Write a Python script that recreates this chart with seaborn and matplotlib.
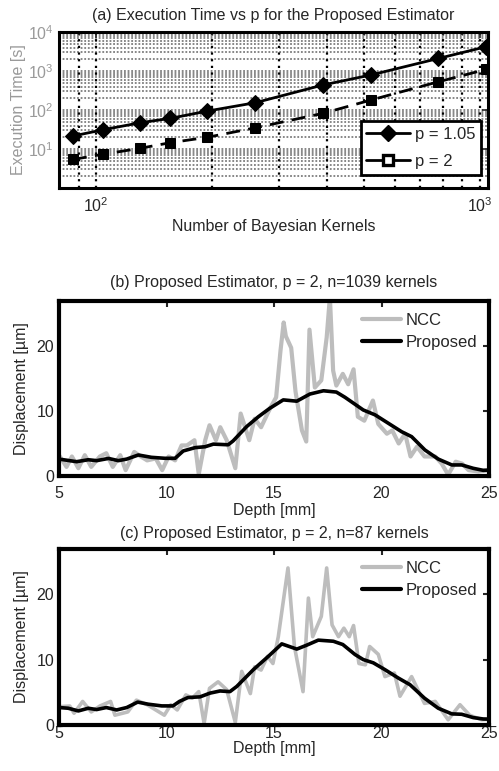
import numpy as np
import pandas as pd
import matplotlib
matplotlib.use("Agg")
import matplotlib.pyplot as plt
from matplotlib.lines import Line2D
from matplotlib.ticker import LogLocator, NullFormatter, FixedLocator
import seaborn as sns

# ---------------- data ----------------
# (a) execution time vs number of kernels
kernels = [87, 104, 130, 156, 195, 260, 390, 520, 780, 1039]
time_p105 = [21.5, 31, 47, 61, 94, 154, 438, 790, 2100, 4200]
time_p2 = [5.4, 7.3, 10.4, 14.5, 20, 35, 82, 180, 530, 1100]

# (b) displacement profile, n=1039 kernels
depth_b_ncc = [5.0, 5.35, 5.6, 5.9, 6.2, 6.5, 6.9, 7.2, 7.5, 7.85, 8.1, 8.5, 8.8, 9.1,
               9.5, 9.8, 10.1, 10.4, 10.7, 10.95, 11.3, 11.5, 11.8, 12.0, 12.3, 12.5,
               12.8, 13.2, 13.45, 13.85, 14.1, 14.4, 14.7, 14.85, 15.1, 15.3, 15.45,
               15.55, 15.8, 16.0, 16.3, 16.5, 16.65, 16.9, 17.2, 17.45, 17.6, 17.75,
               17.9, 18.2, 18.45, 18.7, 18.9, 19.2, 19.6, 19.85, 20.25, 20.5, 20.8,
               21.1, 21.35, 21.65, 22.0, 22.5, 22.8, 23.1, 23.45, 23.75, 24.05, 24.5,
               25.0]
ncc_b = [3.2, 1.4, 3.0, 1.2, 3.2, 1.4, 3.0, 3.5, 1.4, 3.2, 0.9, 3.7, 3.0, 2.4,
         2.7, 0.9, 3.0, 2.4, 4.7, 4.7, 5.5, 0.3, 5.5, 7.8, 5.5, 7.5,
         5.5, 1.2, 9.6, 5.5, 8.8, 7.5, 9.6, 10.6, 12.1, 19.2, 23.6,
         21.5, 19.7, 13.0, 7.0, 5.3, 22.5, 13.6, 14.7, 21.3, 27.5, 16.2,
         13.9, 15.7, 14.1, 16.4, 9.1, 8.5, 11.6, 8.0, 6.5, 7.0, 5.0,
         6.5, 3.0, 4.5, 3.0, 3.0, 1.9, 0.2, 2.2, 1.9, 0.9, 0.7,
         0.9]
depth_b_prop = [5.0, 5.82, 6.36, 6.75, 7.3, 7.76, 8.15, 8.69, 9.3, 9.93, 10.4, 10.78,
                11.33, 11.8, 12.18, 12.87, 13.1, 13.73, 14.27, 14.8, 15.43, 16.06,
                16.67, 17.3, 17.9, 18.3, 19.15, 19.7, 20.32, 20.94, 21.4, 22.02,
                22.64, 23.27, 23.73, 24.27, 24.73, 25.0]
prop_b = [2.6, 2.2, 2.5, 2.36, 2.7, 2.36, 2.6, 3.23, 2.87, 2.72, 2.72, 3.85,
          4.36, 4.5, 4.9, 4.8, 5.4, 7.6, 9.1, 10.4, 11.7, 11.5,
          12.6, 13.1, 12.9, 12.1, 10.15, 9.4, 8.1, 6.8, 6.05, 4.0,
          2.6, 1.7, 1.7, 1.18, 0.87, 0.9]

# (c) displacement profile, n=87 kernels
depth_c_ncc = [5.0, 5.5, 5.7, 6.1, 6.5, 6.9, 7.4, 7.6, 8.2, 8.6, 9.1, 9.5, 9.9, 10.2,
               10.5, 10.9, 11.2, 11.5, 11.75, 12.0, 12.4, 12.8, 13.2, 13.5, 13.9,
               14.1, 14.4, 14.7, 14.95, 15.2, 15.65, 15.95, 16.35, 16.6, 16.8, 17.2,
               17.45, 17.7, 18.0, 18.25, 18.5, 18.7, 18.95, 19.25, 19.45, 19.85,
               20.16, 20.6, 20.86, 21.4, 22.0, 22.5, 23.1, 23.65, 24.1, 24.66, 25.0]
ncc_c = [2.8, 2.9, 1.8, 3.6, 2.0, 2.9, 3.6, 1.5, 2.0, 3.8, 3.1, 2.3, 1.5, 3.1,
         2.3, 4.6, 4.1, 5.1, 0.25, 5.6, 6.6, 5.4, 0.4, 8.2, 4.8,
         8.9, 8.4, 10.5, 9.4, 13.5, 24.0, 12.0, 5.1, 19.4, 13.5, 16.6,
         24.0, 15.3, 13.5, 14.8, 13.5, 15.2, 9.4, 9.2, 12.0, 10.8,
         7.4, 7.95, 4.4, 7.4, 3.3, 3.6, 0.8, 3.1, 1.5, 0.8, 0.9]
depth_c_prop = [5.0, 5.43, 5.9, 6.36, 6.75, 7.2, 7.68, 8.15, 8.66, 9.15, 9.78, 10.3,
                10.6, 11.0, 11.56, 12.02, 12.49, 12.95, 13.27, 14.04, 14.74, 15.36,
                16.06, 16.52, 17.06, 17.76, 18.2, 18.77, 19.15, 19.62, 20.16, 20.78,
                21.33, 22.0, 22.64, 23.27, 23.73, 24.27, 24.73, 25.0]
prop_c = [2.67, 2.56, 2.15, 2.56, 2.36, 2.67, 2.3, 2.67, 3.5, 3.18, 2.92, 2.92,
          3.6, 4.2, 4.3, 4.87, 5.2, 5.1, 5.9, 8.46, 10.5, 12.4,
          11.6, 12.2, 12.97, 12.8, 12.3, 10.77, 10.0, 9.5, 8.46, 7.18,
          6.15, 4.1, 2.56, 1.7, 1.64, 1.13, 0.92, 0.9]

# ---------------- style ----------------
sns.set_style("white")
plt.rcParams["font.family"] = ["Liberation Sans", "DejaVu Sans"]
plt.rcParams["mathtext.fontset"] = "custom"
plt.rcParams["mathtext.rm"] = "Liberation Sans"
plt.rcParams["mathtext.it"] = "Liberation Sans:italic"
FS = 11.5
GRAY_TXT = "#9a9a9a"
NCC_GRAY = "#bdbdbd"

fig = plt.figure(figsize=(4.99, 7.71), dpi=100)
W, H = 499.0, 771.0


def box(left, top, right, bottom):
    return [left / W, 1 - bottom / H, (right - left) / W, (bottom - top) / H]


ax_a = fig.add_axes(box(59, 32, 488, 188))
ax_b = fig.add_axes(box(59, 301, 489, 476))
ax_c = fig.add_axes(box(59, 549, 489, 725))

# ---------------- (a) ----------------
df_a = pd.DataFrame({"kernels": kernels, "t105": time_p105, "t2": time_p2})
ax_a.set_xscale("log")
ax_a.set_yscale("log")

# grid: gray dotted horizontal lines at every log step, black dotted verticals
for dec in [1, 10, 100, 1000]:
    for m in range(1, 10):
        yv = dec * m
        if 1 <= yv <= 10000:
            ax_a.axhline(yv, color="#7d7d7d", lw=1.3, ls=(0, (1, 1.0)), zorder=0)
for xv in [90, 100, 200, 300, 400, 500, 600, 700, 800, 900, 1000]:
    ax_a.axvline(xv, color="black", lw=1.6, ls=(0, (1, 2.0)), zorder=0.5)

sns.lineplot(data=df_a, x="kernels", y="t105", ax=ax_a, color="black", lw=2.0,
             marker="D", markersize=8, markerfacecolor="black",
             markeredgecolor="black", zorder=3)
sns.lineplot(data=df_a, x="kernels", y="t2", ax=ax_a, color="black", lw=2.0,
             linestyle=(0, (5, 3)), marker="s", markersize=7,
             markerfacecolor="black", markeredgecolor="black", zorder=3)

ax_a.set_xlim(80, 1050)
ax_a.set_ylim(1, 10000)
ax_a.yaxis.set_major_locator(FixedLocator([10, 100, 1000, 10000]))
ax_a.yaxis.set_minor_locator(LogLocator(base=10, subs=np.arange(2, 10)))
ax_a.yaxis.set_minor_formatter(NullFormatter())
ax_a.xaxis.set_major_locator(FixedLocator([100, 1000]))
ax_a.xaxis.set_minor_locator(LogLocator(base=10, subs=np.arange(2, 10)))
ax_a.xaxis.set_minor_formatter(NullFormatter())
ax_a.tick_params(axis="both", which="both", direction="in", top=True, right=True,
                 labelsize=FS)
ax_a.tick_params(axis="both", which="major", length=4, width=1.2)
ax_a.tick_params(axis="both", which="minor", length=2, width=1.0)
ax_a.tick_params(axis="y", labelcolor=GRAY_TXT, pad=4)
ax_a.tick_params(axis="x", pad=6)
for s in ax_a.spines.values():
    s.set_linewidth(2.2)
    s.set_color("black")
ax_a.set_title("(a) Execution Time vs p for the Proposed Estimator", fontsize=FS, pad=9)
ax_a.set_xlabel("Number of Bayesian Kernels", fontsize=FS, labelpad=3)
ax_a.set_ylabel("Execution Time [s]", fontsize=FS, color=GRAY_TXT, labelpad=1)

handles_a = [
    Line2D([], [], color="black", lw=2.0, marker="D", markersize=8.5,
           markerfacecolor="black", markeredgecolor="black"),
    Line2D([], [], color="black", lw=2.0, marker="s", markersize=7,
           markerfacecolor="white", markeredgecolor="black", markeredgewidth=2.4),
]
leg_a = ax_a.legend(handles_a, ["p = 1.05", "p = 2"], loc="lower right",
                    bbox_to_anchor=((481 - 59) / 429, (188 - 175) / 156),
                    fontsize=FS + 0.5, frameon=True, fancybox=False,
                    handlelength=2.6, handletextpad=0.3, borderpad=0.35,
                    labelspacing=0.75, borderaxespad=0.0)
leg_a.get_frame().set_edgecolor("black")
leg_a.get_frame().set_linewidth(2.0)
leg_a.get_frame().set_alpha(1)
leg_a.set_zorder(5)


# ---------------- (b) and (c) ----------------
def profile(ax, d_ncc, v_ncc, d_prop, v_prop, title, ncc_lw,
            title_pad, tick_pad, xlabel_pad):
    sns.lineplot(x=d_ncc, y=v_ncc, ax=ax, color=NCC_GRAY, lw=ncc_lw, sort=False,
                 label="NCC")
    sns.lineplot(x=d_prop, y=v_prop, ax=ax, color="black", lw=2.6, sort=False,
                 label="Proposed")
    ax.set_xlim(5, 25)
    ax.set_ylim(0, 26.9)
    ax.set_xticks([5, 10, 15, 20, 25])
    ax.set_yticks([0, 10, 20])
    ax.tick_params(axis="both", direction="in", top=True, right=True, length=4,
                   width=1.5, labelsize=FS)
    ax.tick_params(axis="x", pad=tick_pad)
    for s in ax.spines.values():
        s.set_linewidth(3.0)
        s.set_color("black")
    ax.set_title(title, fontsize=FS, pad=title_pad)
    ax.set_xlabel("Depth [mm]", fontsize=FS, labelpad=xlabel_pad)
    ax.set_ylabel("Displacement [µm]", fontsize=FS, labelpad=5)
    leg = ax.legend(loc="upper right", frameon=False, fontsize=FS + 0.5,
                    handlelength=2.3, handletextpad=0.3, labelspacing=0.45,
                    borderaxespad=0.3)
    leg.get_lines()[0].set_linewidth(3.0)
    leg.get_lines()[1].set_linewidth(3.0)


profile(ax_b, depth_b_ncc, ncc_b, depth_b_prop, prop_b,
        "(b) Proposed Estimator, p = 2, n=1039 kernels", 3.0,
        title_pad=10, tick_pad=7.5, xlabel_pad=1.5)
profile(ax_c, depth_c_ncc, ncc_c, depth_c_prop, prop_c,
        "(c) Proposed Estimator, p = 2, n=87 kernels", 2.6,
        title_pad=8, tick_pad=1.0, xlabel_pad=0)

fig.savefig("out.png", dpi=100)
